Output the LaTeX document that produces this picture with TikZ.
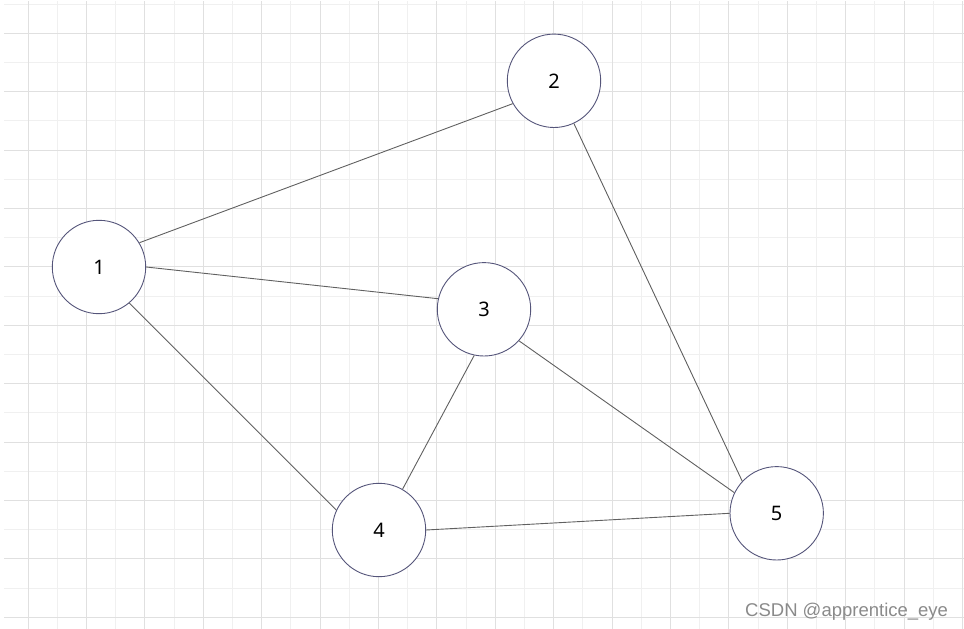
\documentclass[tikz,border=0pt]{standalone}
\usepackage{fontspec}
\setmainfont{Noto Sans}
\newfontfamily\wmfont{Liberation Sans}
\usetikzlibrary{positioning}
\definecolor{gridmajor}{HTML}{E0E0E0}
\definecolor{gridminor}{HTML}{F0F0F0}
\definecolor{vborder}{HTML}{55557A}
\definecolor{edgegray}{HTML}{606060}
\definecolor{wmgray}{HTML}{8A8A8A}

\begin{document}
\begin{tikzpicture}[x=1pt, y=-1pt,
        vertex/.style={draw=vborder, line width=0.9pt, fill=white, circle,
            minimum size=93.4pt, inner sep=0pt, font=\fontsize{20}{24}\selectfont},
        link/.style={draw=edgegray, line width=0.9pt}]
    \useasboundingbox (0,0) rectangle (964,629);

    % background grid
    \foreach \i in {0,2,...,20}
        \draw[gridminor, line width=0.9pt] (4, 4+29.2*\i) -- (964, 4+29.2*\i);
    \foreach \j in {1,3,...,31}
        \draw[gridminor, line width=0.9pt] (28+29.2*\j, 1) -- (28+29.2*\j, 629);
    \foreach \i in {1,3,...,21}
        \draw[gridmajor, line width=0.9pt] (4, 4+29.2*\i) -- (964, 4+29.2*\i);
    \foreach \j in {0,2,...,32}
        \draw[gridmajor, line width=0.9pt] (28+29.2*\j, 1) -- (28+29.2*\j, 629);

    \node[vertex] (v1) at (99, 267) {1};
    \node[vertex] (v2) at (554, 80.8) {2};
    \node[vertex] (v3) at (484, 309.3) {3};
    \node[vertex] (v4) at (379, 530) {4};
    \node[vertex] (v5) at (776.7, 513.3) {5};

    \draw[link]
    (v1.31.5) -- (v2.209)
    (v1.0) -- (v3.167.7)
    (v1.-50.7) -- (v4.155.8)
    (v2.-65.6) -- (v5.137.9)
    (v3.-102.3) -- (v4.60)
    (v3.-42.7) -- (v5.154)
    (v4.0) -- (v5.180);

    \node[anchor=base west, inner sep=0pt, text=wmgray,
        font=\wmfont\fontsize{18.5}{22}\selectfont] (wm) at (745, 616) {CSDN @apprentice\_eye};
\end{tikzpicture}
\end{document}
